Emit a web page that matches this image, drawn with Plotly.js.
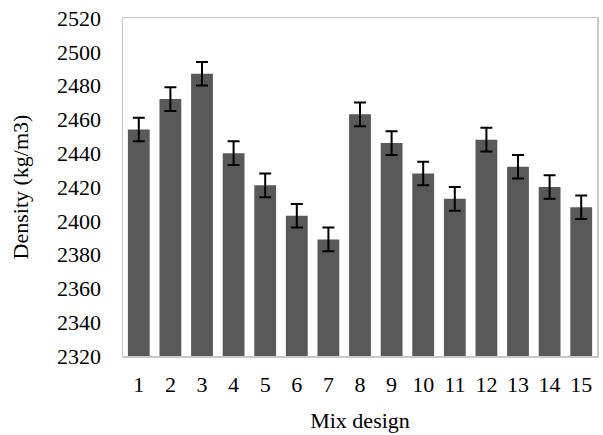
<!DOCTYPE html>
<html>
<head>
<meta charset="utf-8">
<script src="https://cdn.plot.ly/plotly-3.0.1.min.js"></script>
<style>html,body{margin:0;padding:0;background:#fff;}#chart{width:603px;height:435px;}</style>
</head>
<body>
<div id="chart"></div>
<script>
const mixDesigns = ["1","2","3","4","5","6","7","8","9","10","11","12","13","14","15"];
const density = [2454, 2472, 2487, 2440, 2421, 2403, 2389, 2463, 2446, 2428, 2413, 2448, 2432, 2420, 2408];
const densityError = [7, 7, 7, 7, 7, 7, 7, 7, 7, 7, 7, 7, 7, 7, 7];
const yTicks = [2320, 2340, 2360, 2380, 2400, 2420, 2440, 2460, 2480, 2500, 2520];

const fontFam = 'Liberation Serif';

const trace = {
  type: 'bar',
  x: mixDesigns,
  y: density,
  marker: {color: '#595959'},
  error_y: {type: 'data', array: densityError, visible: true, color: '#000000', thickness: 2, width: 6},
  hoverinfo: 'none'
};

const layout = {
  width: 603, height: 435,
  margin: {l: 123, r: 6, t: 18, b: 79},
  paper_bgcolor: '#ffffff', plot_bgcolor: '#ffffff',
  bargap: 0.31,
  showlegend: false,
  font: {family: fontFam, size: 22, color: '#000000'},
  xaxis: {
    type: 'category',
    showline: true, mirror: true, linecolor: '#c8c8c8', linewidth: 1.5,
    ticks: 'outside', ticklen: 8, tickcolor: 'rgba(0,0,0,0)',
    tickfont: {family: fontFam, size: 22, color: '#000'},
    title: {text: 'Mix design', font: {family: fontFam, size: 22, color: '#000'}, standoff: 16},
    automargin: false
  },
  yaxis: {
    range: [2320, 2520],
    tickvals: yTicks,
    ticktext: yTicks.map(String),
    showgrid: false, zeroline: false,
    showline: true, mirror: true, linecolor: '#c8c8c8', linewidth: 1.5,
    ticks: 'outside', ticklen: 16, tickcolor: 'rgba(0,0,0,0)',
    tickfont: {family: fontFam, size: 22, color: '#000'},
    title: {text: 'Density (kg/m3)', font: {family: fontFam, size: 22, color: '#000'}, standoff: 22},
    automargin: false
  }
};

Plotly.newPlot('chart', [trace], layout, {staticPlot: true, displayModeBar: false});
</script>
</body>
</html>
